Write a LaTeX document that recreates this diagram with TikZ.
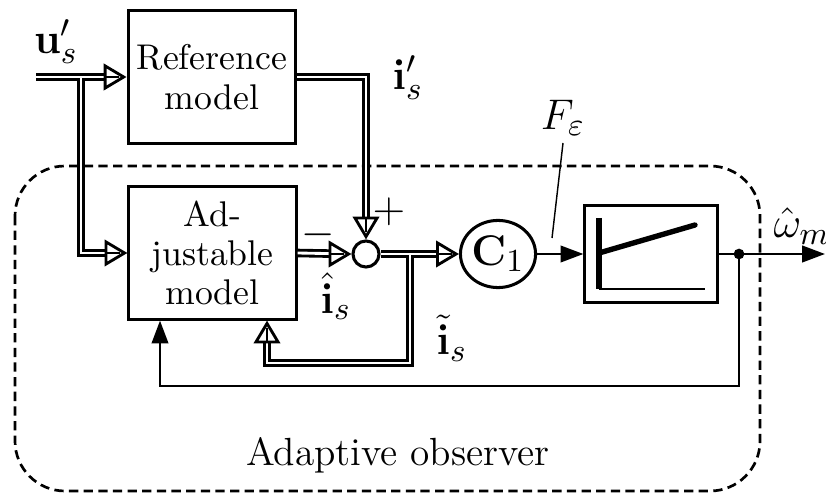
\documentclass[tikz,border=0pt]{standalone}
\usetikzlibrary{arrows.meta,calc,shapes.geometric}
\begin{document}
\begin{tikzpicture}[x=0.28pt,y=-0.28pt,
  box/.style={draw,line width=0.85pt,rectangle,align=center,inner sep=0pt,
    font=\fontsize{10}{11}\selectfont},
  dbl/.style={draw,line width=0.8pt,double,double distance=0.8pt},
  dbla/.style={dbl,shorten >=5.8pt},
  otip/.style={line width=0.8pt,-{Triangle[open,length=6.4pt,width=7.4pt,line width=0.8pt]}},
  sarr/.style={line width=0.75pt,-{Triangle[length=6.4pt,width=4.6pt]}},
  lbl/.style={inner sep=0pt,font=\fontsize{12.5}{14}\selectfont}]
\useasboundingbox (0,0) rectangle (826,494);
% dashed region
\draw[line width=0.75pt,dash pattern=on 2.6pt off 1.5pt,rounded corners=14pt]
  (15,166) rectangle (760,491);
% blocks
\node[box,minimum width=47pt,minimum height=37pt] (ref) at (212,77) {Reference\\model};
\node[box,minimum width=46.8pt,minimum height=37pt] (adj) at (212.5,253) {Ad-\\justable\\model};
\node[draw,circle,line width=0.85pt,minimum size=7.3pt,inner sep=0pt] (sum) at (366,254) {};
\node[draw,ellipse,line width=0.85pt,minimum width=21pt,minimum height=18.8pt,inner sep=0pt,
  font=\fontsize{12.5}{14}\selectfont] (C1) at (498,254) {$\mathbf{C}_1$};
\node[draw,line width=0.85pt,minimum width=37pt,minimum height=27.4pt,inner sep=0pt] (nl) at (651,254) {};
% nonlinearity sketch
\draw[line width=1.5pt] (599,218) -- (599,289);
\draw[line width=0.8pt] (599,289) -- (705,289);
\draw[line width=1.5pt,line cap=round] (599,253) -- (695,225);
% coordinates
\coordinate (in) at (36,77);
\coordinate (br) at (81,77);
\coordinate (fb) at (410,254);
\coordinate (fbb) at (410,363);
\coordinate (fbl) at (267,363);
\coordinate (fbt) at (fbl |- adj.south);
\node[circle,fill,inner sep=0pt,minimum size=3pt] (dot) at (739,254) {};
\coordinate (out) at (825,254);
\coordinate (fb2) at (160,386);
% double-line connectors
\draw[dbla] (in) -- (ref.west);
\draw[dbla] ([yshift=-0.4pt]br) |- (adj.west);
\draw[dbla] (ref.east) -| (sum.north);
\draw[dbla] (adj.east) -- (sum.west);
\draw[dbla] (sum.east) -- (C1.west);
\draw[dbla] ([yshift=-0.4pt]fb) -- (fbb) -- (fbl) -- (fbt);
% open arrow tips of the double lines
\draw[otip] ([xshift=-2pt]ref.west) -- (ref.west);
\draw[otip] ([xshift=-2pt]adj.west) -- (adj.west);
\draw[otip] ([yshift=2pt]sum.north) -- (sum.north);
\draw[otip] ([xshift=-2pt]sum.west) -- (sum.west);
\draw[otip] ([xshift=-2pt]C1.west) -- (C1.west);
\draw[otip] ([yshift=-2pt]fbt) -- (fbt);
% single-line connectors
\draw[sarr] (C1.east) -- (nl.west);
\draw[sarr] (nl.east) -- (out);
\draw[sarr] (dot.center) |- (fb2) -- (fb2 |- adj.south);
% labels
\node[lbl] (lu) at (56,42) {$\mathbf{u}'_s$};
\node[lbl] (li) at (408,78) {$\mathbf{i}'_s$};
\node[lbl] (lp) at (389,212) {$+$};
\node[lbl] (lm) at (318,235) {$-$};
\node[lbl] (lh) at (336,296) {$\hat{\mathbf{i}}_s$};
\node[lbl] (lt) at (452,338) {$\tilde{\mathbf{i}}_s$};
\node[lbl] (lw) at (802,226) {$\hat{\omega}_m$};
\node[lbl] (lF) at (563,118) {$F_\varepsilon$};
\coordinate (lFe) at (552,238);
\draw[line width=0.4pt] (563,143) -- (lFe);
\node[inner sep=0pt,font=\fontsize{11}{13}\selectfont] (lao) at (398,455) {Adaptive observer};
\end{tikzpicture}
\end{document}
